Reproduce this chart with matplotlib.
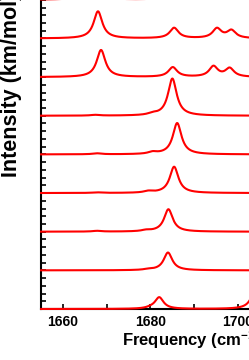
import numpy as np
import matplotlib
matplotlib.use("Agg")
import matplotlib.pyplot as plt
from matplotlib.ticker import MultipleLocator, NullFormatter

plt.rcParams['font.family'] = ['Liberation Sans', 'DejaVu Sans']
plt.rcParams['font.weight'] = 'bold'
plt.rcParams['mathtext.fontset'] = 'custom'
plt.rcParams['mathtext.rm'] = 'Liberation Sans:bold'
plt.rcParams['mathtext.it'] = 'Liberation Sans:bold'
plt.rcParams['mathtext.bf'] = 'Liberation Sans:bold'

# Peak lists (frequency cm^-1, intensity in units of stack offset), bottom to top
peak_freqs = [
    [1680.0, 1682.0, 1704.0],
    [1679.5, 1684.0],
    [1667.8, 1679.0, 1684.1],
    [1667.8, 1679.5, 1685.4],
    [1667.8, 1680.5, 1686.1],
    [1667.4, 1680.5, 1685.0],
    [1668.7, 1685.1, 1694.4, 1698.1],
    [1668.0, 1685.4, 1695.2, 1698.5],
    [1666.5, 1684.5, 1695.5, 1699.0],
]
peak_heights = [
    [0.02, 0.30, 0.50],
    [0.02, 0.46],
    [0.02, 0.03, 0.58],
    [0.015, 0.04, 0.68],
    [0.025, 0.05, 0.81],
    [0.02, 0.04, 0.96],
    [0.70, 0.25, 0.27, 0.22],
    [0.70, 0.27, 0.25, 0.20],
    [0.70, 0.30, 0.25, 0.20],
]
offsets = [0, 1, 2, 3, 4, 5, 6, 7, 8]
hwhm = 1.2

x_range = (1655, 1715)
x_ticks_major = 20
x_ticks_minor = 10

W, H = 249, 360
fig = plt.figure(figsize=(W / 100, H / 100), dpi=100)
px_per_x = 4.375
px_per_y = 38.65
left_px = 41.1
bottom_px = 309
ax = fig.add_axes([left_px / W, (H - bottom_px) / H,
                   (x_range[1] - x_range[0]) * px_per_x / W,
                   9 * px_per_y / H])

x = np.linspace(x_range[0], x_range[1], 3000)
for fr, hs, off in zip(peak_freqs, peak_heights, offsets):
    y = np.zeros_like(x)
    for f, h in zip(fr, hs):
        y += h / (1 + ((x - f) / hwhm) ** 2)
    ax.plot(x, y + off, color='#ff0000', lw=1.5, clip_on=False, zorder=3)

ax.set_xlim(*x_range)
ax.set_ylim(0, 9)
for s in ax.spines.values():
    s.set_linewidth(1.5)
ax.xaxis.set_major_locator(MultipleLocator(x_ticks_major))
ax.xaxis.set_minor_locator(MultipleLocator(x_ticks_minor))
ax.yaxis.set_major_locator(MultipleLocator(0.2))
ax.yaxis.set_major_formatter(NullFormatter())
ax.tick_params(axis='both', which='both', direction='in', length=3.8, width=1.2)
ax.tick_params(axis='x', which='major', labelsize=10, pad=4.5)
for lab in ax.get_xticklabels():
    lab.set_fontweight('bold')

fig.text(122 / W, (H - 345) / H, r"Frequency (cm$^{-1}$)", fontsize=12,
         fontweight='bold', ha='left', va='baseline')
fig.text(11.5 / W, (H - 177) / H, "Intensity (km/mol)", fontsize=15.5,
         fontweight='bold', rotation=90, ha='center', va='bottom')

fig.savefig("out.png", dpi=100)
